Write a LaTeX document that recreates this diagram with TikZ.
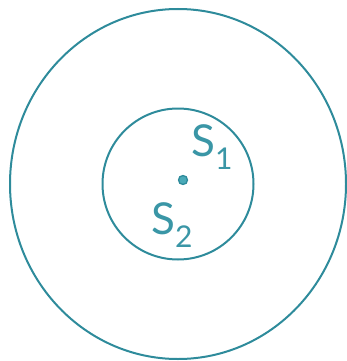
\documentclass[tikz,border=0pt]{standalone}
\usepackage{fontspec}
\setmainfont{Lato}
\usetikzlibrary{shapes.geometric}
\definecolor{ring}{RGB}{46,139,155}
\definecolor{lbl}{RGB}{58,150,166}
\definecolor{dotfill}{RGB}{74,170,184}
\begin{document}
\begin{tikzpicture}[x=1pt,y=-1pt,
  ringline/.style={draw=ring,line width=2pt},
  lab/.style={text=lbl,inner sep=0pt,anchor=base west,font=\fontsize{44}{44}\selectfont}]
\useasboundingbox (0,0) rectangle (347,361);
\node[ringline,ellipse,minimum width=336pt,minimum height=350pt,inner sep=0pt] (outer) at (178,184) {};
\node[ringline,circle,minimum size=151pt,inner sep=0pt] (inner) at (178,184) {};
\node[circle,fill=dotfill,draw=ring,line width=1.3pt,minimum size=9pt,inner sep=0pt] (dot) at (183,180) {};
\node[lab] (s1) at (191,156.5) {S\raisebox{-13pt}{\fontsize{30}{30}\selectfont 1}};
\node[lab] (s2) at (151,234.5) {S\raisebox{-13pt}{\fontsize{30}{30}\selectfont 2}};
\end{tikzpicture}
\end{document}
